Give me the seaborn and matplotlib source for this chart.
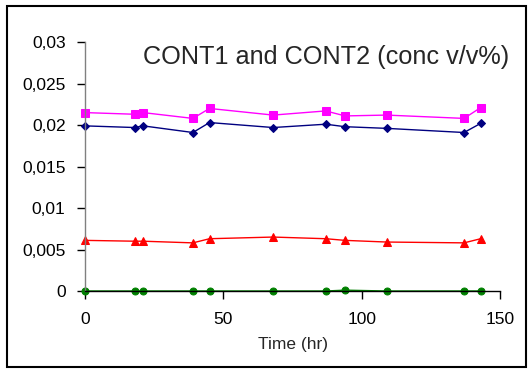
import matplotlib
matplotlib.use("Agg")
import matplotlib.pyplot as plt
import matplotlib.ticker as mticker
from matplotlib.patches import Rectangle
import numpy as np
import pandas as pd
import seaborn as sns

time_hr = [0, 18, 21, 39, 45, 68, 87, 94, 109, 137, 143]
cont_magenta = [0.0215, 0.0213, 0.0215, 0.0208, 0.0220, 0.0212, 0.0217, 0.0211, 0.0212, 0.0208, 0.0221]
cont_navy = [0.0199, 0.0197, 0.0199, 0.0191, 0.0203, 0.0197, 0.0201, 0.0198, 0.0196, 0.0191, 0.0202]
cont_red = [0.0061, 0.0060, 0.0060, 0.0058, 0.0063, 0.0065, 0.0063, 0.0061, 0.0059, 0.0058, 0.0063]
cont_green = [0.0, 0.0, 0.0, 0.0, 0.0, 0.0, 0.0, 0.0001, 0.0, 0.0, 0.0]

x_ticks = [0, 50, 100, 150]
y_ticks = [0, 0.005, 0.01, 0.015, 0.02, 0.025, 0.03]
title_text = "CONT1 and CONT2 (conc v/v%)"
x_label = "Time (hr)"

sns.set_theme(style="ticks")
plt.rcParams["font.family"] = ["Liberation Sans", "DejaVu Sans"]
plt.rcParams["xtick.major.size"] = 6
plt.rcParams["ytick.major.size"] = 6
plt.rcParams["xtick.major.width"] = 1.0
plt.rcParams["ytick.major.width"] = 1.0

series = [
    (cont_green, "#008000", "o", 5),
    (cont_red, "#FF0000", "^", 6),
    (cont_navy, "#000080", "D", 4),
    (cont_magenta, "#FF00FF", "s", 6),
]

fig = plt.figure(figsize=(5.28, 3.69), dpi=100)
ax = fig.add_axes([0.161, 0.2114, 0.786, 0.6746])

for values, color, marker, msize in series:
    df = pd.DataFrame({"t": time_hr, "v": values})
    sns.lineplot(data=df, x="t", y="v", ax=ax, color=color, marker=marker,
                 markersize=msize, markeredgecolor=color, linewidth=1.0,
                 clip_on=False)

ax.set_xlim(0, 150)
ax.set_ylim(0, 0.03)
ax.set_xticks(x_ticks)
ax.set_yticks(y_ticks)

def comma_fmt(v, pos):
    s = ("%.3f" % v).rstrip("0").rstrip(".")
    return s.replace(".", ",")

ax.yaxis.set_major_formatter(mticker.FuncFormatter(comma_fmt))
ax.xaxis.set_major_formatter(mticker.FuncFormatter(lambda v, p: "%d" % v))

for side in ["top", "right"]:
    ax.spines[side].set_visible(False)
ax.spines["left"].set_color("#808080")
ax.spines["bottom"].set_color("#000000")
ax.spines["left"].set_linewidth(1.0)
ax.spines["bottom"].set_linewidth(1.0)

ax.tick_params(axis="both", which="major", bottom=True, left=True,
               direction="out", length=6, width=1.0,
               labelsize=12.5, color="#000000", labelcolor="#000000")
ax.tick_params(axis="y", pad=8)
ax.tick_params(axis="x", pad=9)
ax.set_xlabel(x_label, fontsize=12.5, labelpad=7)
ax.set_ylabel("")
ax.grid(False)

fig.text(0.271, 0.845, title_text, fontsize=18.2, ha="left", va="center")

fig.patches.append(Rectangle((0.013, 0.006), 0.983, 0.978, transform=fig.transFigure,
                             fill=False, edgecolor="#000000", linewidth=1.5))

fig.savefig("out.png", dpi=100)
